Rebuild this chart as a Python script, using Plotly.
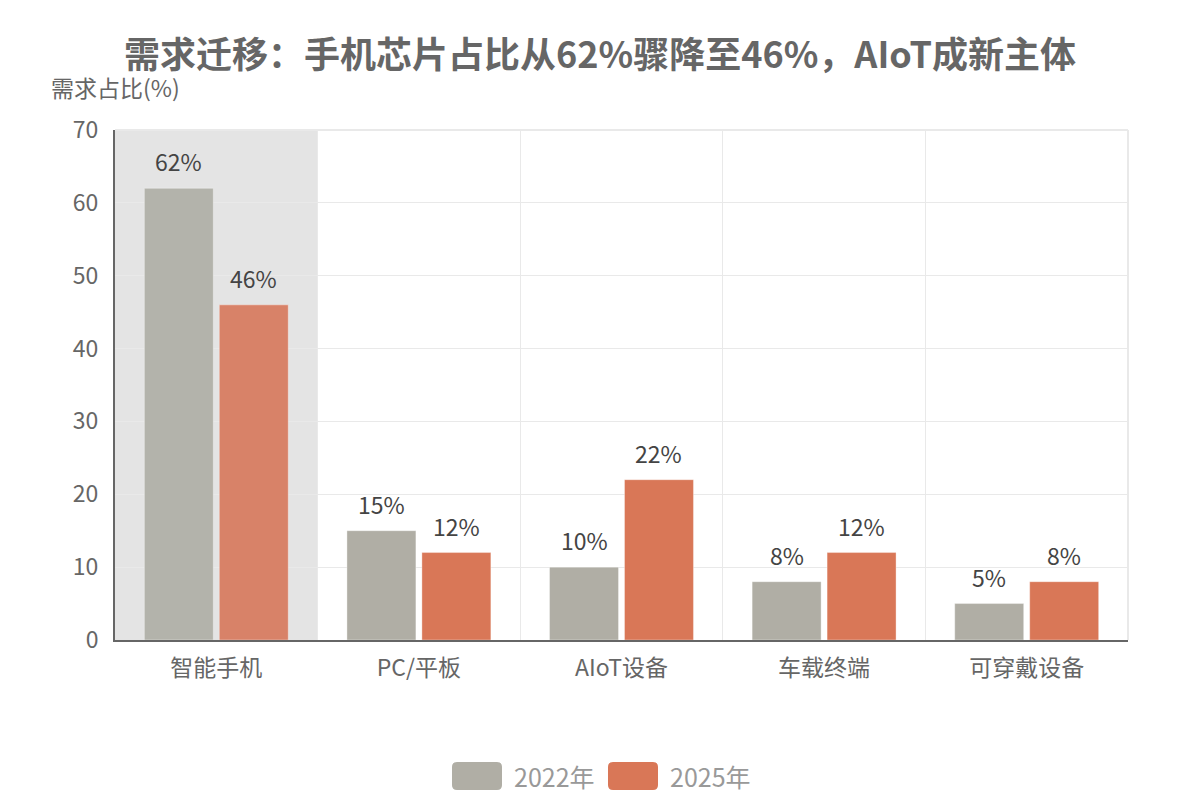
import plotly.graph_objects as go

categories = ["智能手机", "PC/平板", "AIoT设备", "车载终端", "可穿戴设备"]
series_names = ["2022年", "2025年"]
values_2022 = [62, 15, 10, 8, 5]
values_2025 = [46, 12, 22, 12, 8]
y_ticks = [0, 10, 20, 30, 40, 50, 60, 70]
highlight_index = 0

title_text = "需求迁移：手机芯片占比从62%骤降至46%，AIoT成新主体"
y_title = "需求占比(%)"

colors = ["#b0aea5", "#d97757"]
hl_colors = ["#b3b3ab", "#d88268"]

FONT = "Noto Sans CJK SC, Noto Sans, sans-serif"
GRID = "#e9e9e9"

W, H = 1200, 800
L, R, T, B = 115, 72, 130, 160
PW, PH = W - L - R, H - T - B
BARGAP, BARGROUPGAP = 0.26, 0.08


def px_to_paper(x, y):
    return (x - L) / PW, (H - B - y) / PH


def rounded_rect(x0, y0, x1, y1, r):
    def P(x, y):
        a, b = px_to_paper(x, y)
        return f"{a:.5f},{b:.5f}"
    return (f"M{P(x0 + r, y0)} L{P(x1 - r, y0)} Q{P(x1, y0)} {P(x1, y0 + r)} "
            f"L{P(x1, y1 - r)} Q{P(x1, y1)} {P(x1 - r, y1)} "
            f"L{P(x0 + r, y1)} Q{P(x0, y1)} {P(x0, y1 - r)} "
            f"L{P(x0, y0 + r)} Q{P(x0, y0)} {P(x0 + r, y0)} Z")


fig = go.Figure()
cat_w = PW / len(categories)
slot = cat_w * (1 - BARGAP) / len(series_names)
annotations = []
for s, (name, vals, c, hc) in enumerate(zip(series_names, [values_2022, values_2025], colors, hl_colors)):
    cols = [hc if i == highlight_index else c for i in range(len(vals))]
    fig.add_trace(go.Bar(
        x=categories, y=vals, name=name,
        marker=dict(color=cols, line=dict(color="rgba(255,255,255,0.35)", width=1)),
        showlegend=False, hoverinfo="x+y",
    ))
    shift = (s - (len(series_names) - 1) / 2) * slot
    for cat, v in zip(categories, vals):
        annotations.append(dict(text=f"{v}%", xref="x", yref="y", x=cat, y=v,
                                xshift=shift, yshift=8, xanchor="center", yanchor="bottom",
                                showarrow=False,
                                font=dict(size=23, color="#444444", family=FONT)))

shapes = [dict(type="rect", xref="x", yref="paper",
               x0=highlight_index - 0.5, x1=highlight_index + 0.5, y0=0, y1=1,
               fillcolor="#e4e4e4", line=dict(width=0), layer="below"),
          dict(type="line", xref="paper", yref="paper", x0=0, x1=1, y0=1, y1=1,
               line=dict(color=GRID, width=2), layer="below"),
          dict(type="line", xref="paper", yref="paper", x0=1, x1=1, y0=0, y1=1,
               line=dict(color=GRID, width=2), layer="below")]

annotations.append(dict(text=y_title, xref="paper", yref="paper",
                        x=0, y=1 + 43 / PH, xanchor="center", yanchor="middle",
                        showarrow=False, font=dict(size=23, color="#666666", family=FONT)))

# custom legend
legend_x = [452, 608]
for i, (name, c) in enumerate(zip(series_names, colors)):
    x0 = legend_x[i]
    shapes.append(dict(type="path", xref="paper", yref="paper",
                       path=rounded_rect(x0, 762, x0 + 50, 790, 5),
                       fillcolor=c, line=dict(width=0)))
    ax, ay = px_to_paper(x0 + 60, 776)
    annotations.append(dict(text=name, xref="paper", yref="paper", x=ax, y=ay,
                            xanchor="left", yanchor="middle", showarrow=False,
                            font=dict(size=25, color="#999999", family=FONT)))

fig.update_layout(
    width=W, height=H,
    margin=dict(l=L, r=R, t=T, b=B),
    paper_bgcolor="white", plot_bgcolor="white",
    title=dict(text=f"<b>{title_text}</b>", x=0.5, xanchor="center",
               y=1 - 55 / H, yanchor="middle",
               font=dict(size=36, color="#666666", family=FONT)),
    barmode="group", bargap=BARGAP, bargroupgap=BARGROUPGAP,
    shapes=shapes, annotations=annotations,
    showlegend=False,
    font=dict(family=FONT),
)
fig.update_xaxes(
    tickson="boundaries", showgrid=True, gridcolor=GRID, gridwidth=1,
    showline=True, linecolor="#666666", linewidth=2,
    ticks="", ticklabelstandoff=6,
    tickfont=dict(size=23, color="#666666", family=FONT),
)
fig.update_yaxes(
    range=[0, 70], tickvals=y_ticks, showgrid=True, gridcolor=GRID, gridwidth=1,
    showline=True, linecolor="#666666", linewidth=2, zeroline=False,
    ticks="", ticklabelstandoff=10,
    tickfont=dict(size=23, color="#666666", family=FONT),
)

fig.write_html("out.html")
